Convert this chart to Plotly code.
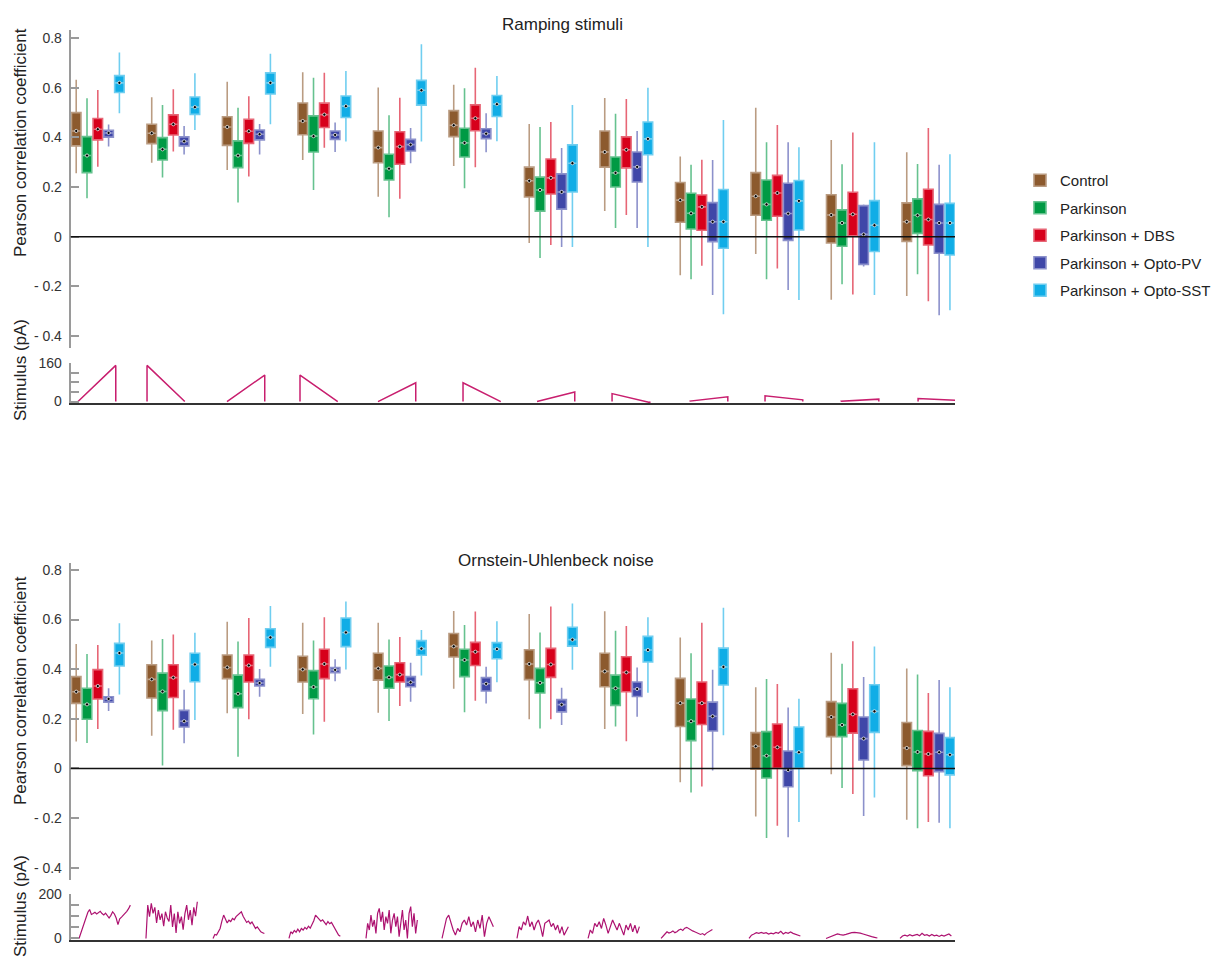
import plotly.graph_objects as go

W, H = 1227, 965

conditions = ["Control", "Parkinson", "Parkinson + DBS",
              "Parkinson + Opto-PV", "Parkinson + Opto-SST"]
colors = ["#8c5a2e", "#009a44", "#d7001b", "#3f47a8", "#10ade6"]

# Box statistics for the 12 stimuli:
# (lower whisker, Q1, median, Q3, upper whisker)
ramp_control = [(0.255, 0.366, 0.426, 0.500, 0.632), (0.298, 0.375, 0.417, 0.453, 0.562),
                (0.269, 0.368, 0.442, 0.483, 0.624), (0.309, 0.411, 0.466, 0.539, 0.663),
                (0.161, 0.298, 0.359, 0.426, 0.601), (0.285, 0.403, 0.449, 0.508, 0.612),
                (-0.026, 0.160, 0.225, 0.280, 0.454), (0.103, 0.280, 0.341, 0.426, 0.559),
                (-0.156, 0.058, 0.147, 0.218, 0.323), (-0.070, 0.086, 0.163, 0.258, 0.520),
                (-0.254, -0.026, 0.087, 0.169, 0.390), (-0.239, -0.019, 0.060, 0.136, 0.340)]
ramp_parkinson = [(0.155, 0.258, 0.327, 0.403, 0.558), (0.238, 0.309, 0.352, 0.399, 0.531),
                  (0.138, 0.278, 0.327, 0.386, 0.520), (0.188, 0.341, 0.405, 0.487, 0.640),
                  (0.078, 0.228, 0.274, 0.332, 0.489), (0.195, 0.321, 0.378, 0.437, 0.598),
                  (-0.086, 0.103, 0.188, 0.240, 0.442), (0.035, 0.200, 0.257, 0.321, 0.495),
                  (-0.172, 0.031, 0.094, 0.175, 0.290), (-0.172, 0.066, 0.130, 0.228, 0.380),
                  (-0.192, -0.039, 0.055, 0.108, 0.292), (-0.152, 0.013, 0.086, 0.152, 0.293)]
ramp_dbs = [(0.282, 0.390, 0.433, 0.476, 0.591), (0.343, 0.410, 0.453, 0.491, 0.594),
            (0.242, 0.376, 0.425, 0.473, 0.566), (0.358, 0.440, 0.492, 0.538, 0.661),
            (0.153, 0.292, 0.363, 0.423, 0.560), (0.280, 0.427, 0.477, 0.531, 0.681),
            (-0.034, 0.172, 0.237, 0.313, 0.462), (0.087, 0.277, 0.350, 0.402, 0.555),
            (-0.117, 0.026, 0.120, 0.168, 0.310), (-0.128, 0.082, 0.176, 0.247, 0.450),
            (-0.233, 0.003, 0.090, 0.179, 0.420), (-0.261, -0.034, 0.069, 0.191, 0.438)]
ramp_pv = [(0.363, 0.401, 0.418, 0.429, 0.452), (0.331, 0.366, 0.384, 0.402, 0.446),
           (0.331, 0.390, 0.413, 0.430, 0.454), (0.341, 0.392, 0.410, 0.426, 0.460),
           (0.296, 0.345, 0.371, 0.392, 0.438), (0.340, 0.395, 0.415, 0.435, 0.497),
           (-0.042, 0.111, 0.180, 0.253, 0.357), (0.035, 0.220, 0.281, 0.341, 0.426),
           (-0.235, -0.020, 0.060, 0.137, 0.309), (-0.215, -0.015, 0.093, 0.215, 0.380),
           (-0.120, -0.112, 0.009, 0.125, 0.130), (-0.317, -0.067, 0.055, 0.130, 0.290)]
ramp_sst = [(0.497, 0.581, 0.620, 0.649, 0.742), (0.430, 0.493, 0.522, 0.563, 0.659),
            (0.453, 0.575, 0.620, 0.660, 0.737), (0.383, 0.480, 0.526, 0.567, 0.668),
            (0.383, 0.530, 0.590, 0.630, 0.776), (0.384, 0.484, 0.534, 0.569, 0.648),
            (-0.042, 0.180, 0.296, 0.370, 0.531), (-0.042, 0.330, 0.394, 0.462, 0.600),
            (-0.313, -0.047, 0.060, 0.190, 0.470), (-0.255, 0.027, 0.144, 0.226, 0.360),
            (-0.235, -0.060, 0.046, 0.145, 0.380), (-0.297, -0.074, 0.055, 0.134, 0.332)]

ou_control = [(0.108, 0.262, 0.309, 0.370, 0.501), (0.132, 0.284, 0.359, 0.418, 0.516),
              (0.222, 0.362, 0.407, 0.457, 0.591), (0.219, 0.348, 0.399, 0.452, 0.587),
              (0.224, 0.356, 0.403, 0.464, 0.587), (0.321, 0.449, 0.492, 0.544, 0.634),
              (0.198, 0.358, 0.421, 0.478, 0.622), (0.159, 0.329, 0.391, 0.464, 0.633),
              (-0.056, 0.169, 0.263, 0.363, 0.528), (-0.194, -0.003, 0.089, 0.144, 0.327),
              (-0.024, 0.128, 0.207, 0.269, 0.466), (-0.207, 0.011, 0.082, 0.185, 0.403)]
ou_parkinson = [(0.102, 0.198, 0.258, 0.323, 0.461), (0.012, 0.233, 0.310, 0.384, 0.522),
                (0.047, 0.245, 0.301, 0.376, 0.512), (0.137, 0.281, 0.328, 0.394, 0.516),
                (0.191, 0.323, 0.367, 0.413, 0.520), (0.226, 0.370, 0.437, 0.480, 0.578),
                (0.161, 0.304, 0.345, 0.403, 0.548), (0.169, 0.254, 0.323, 0.376, 0.555),
                (-0.097, 0.112, 0.190, 0.280, 0.464), (-0.281, -0.039, 0.051, 0.148, 0.360),
                (-0.079, 0.128, 0.175, 0.262, 0.422), (-0.241, -0.009, 0.066, 0.153, 0.378)]
ou_dbs = [(0.159, 0.280, 0.332, 0.398, 0.497), (0.156, 0.286, 0.366, 0.418, 0.540),
          (0.198, 0.348, 0.415, 0.457, 0.606), (0.188, 0.362, 0.421, 0.480, 0.609),
          (0.251, 0.348, 0.378, 0.426, 0.530), (0.273, 0.415, 0.470, 0.508, 0.632),
          (0.198, 0.367, 0.419, 0.484, 0.653), (0.109, 0.309, 0.387, 0.450, 0.574),
          (-0.073, 0.177, 0.263, 0.348, 0.587), (-0.231, 0.000, 0.085, 0.179, 0.340),
          (-0.103, 0.142, 0.218, 0.321, 0.513), (-0.216, -0.030, 0.058, 0.149, 0.304)]
ou_pv = [(0.231, 0.267, 0.280, 0.289, 0.323), (0.101, 0.167, 0.190, 0.234, 0.317),
         (0.289, 0.332, 0.344, 0.359, 0.401), (0.351, 0.386, 0.397, 0.406, 0.440),
         (0.269, 0.329, 0.347, 0.370, 0.426), (0.262, 0.312, 0.341, 0.366, 0.410),
         (0.175, 0.228, 0.257, 0.277, 0.325), (0.208, 0.290, 0.320, 0.348, 0.407),
         (-0.009, 0.151, 0.210, 0.267, 0.398), (-0.278, -0.074, -0.007, 0.070, 0.245),
         (-0.192, 0.034, 0.120, 0.207, 0.368), (-0.219, -0.013, 0.065, 0.141, 0.356)]
ou_sst = [(0.298, 0.413, 0.465, 0.504, 0.585), (0.195, 0.349, 0.419, 0.464, 0.547),
          (0.410, 0.488, 0.528, 0.563, 0.655), (0.399, 0.491, 0.548, 0.606, 0.673),
          (0.374, 0.456, 0.483, 0.515, 0.558), (0.347, 0.442, 0.481, 0.507, 0.593),
          (0.398, 0.493, 0.519, 0.569, 0.665), (0.305, 0.429, 0.477, 0.532, 0.609),
          (0.134, 0.336, 0.409, 0.485, 0.648), (-0.216, 0.000, 0.065, 0.167, 0.281),
          (-0.117, 0.145, 0.230, 0.337, 0.491), (-0.241, -0.026, 0.055, 0.124, 0.327)]

# Ramp stimuli (pA): level at ramp onset and at ramp end
ramp_from = [0, 150, 0, 110, 0, 78, 0, 33, 2, 24, 1, 13]
ramp_to = [150, 0, 110, 0, 78, 0, 40, -4, 20, 7, 10, 5]

# Ornstein-Uhlenbeck stimulus samples (pA)
ou_stim_01 = [0, 25, 45, 70, 95, 118, 130, 108, 112, 118, 110, 116, 122, 112, 106,
              114, 100, 92, 104, 120, 110, 92, 62, 88, 96, 104, 112, 122, 134, 150]
ou_stim_02 = [0, 150, 98, 158, 113, 140, 70, 128, 84, 112, 55, 120, 92, 76, 150,
              52, 112, 25, 120, 68, 98, 40, 112, 150, 84, 128, 60, 140, 100, 165]
ou_stim_03 = [0, 18, 15, 28, 45, 78, 105, 88, 70, 82, 76, 90, 84, 98, 104,
              112, 120, 100, 86, 72, 78, 66, 74, 56, 45, 52, 38, 30, 26, 22]
ou_stim_04 = [0, 30, 22, 36, 28, 42, 30, 45, 38, 50, 42, 55, 46, 62, 80,
              105, 96, 88, 78, 84, 70, 62, 76, 66, 72, 58, 45, 30, 15, 10]
ou_stim_05 = [0, 68, 38, 105, 53, 83, 23, 113, 135, 75, 120, 38, 98, 68, 128, 23,
              83, 113, 53, 98, 8, 68, 128, 38, 83, 0, 113, 143, 53, 113, 23, 83]
ou_stim_06 = [0, 53, 90, 105, 68, 38, 15, 45, 30, 68, 83, 60, 98, 53, 75, 30,
              83, 45, 105, 8, 68, 98, 75, 53]
ou_stim_07 = [0, 53, 38, 75, 60, 101, 53, 75, 38, 68, 83, 53, 8, 68, 75, 83,
              53, 68, 38, 60, 23, 53, 15, 38, 53]
ou_stim_08 = [0, 38, 23, 68, 53, 75, 45, 90, 60, 23, 53, 83, 60, 38, 68, 45,
              15, 60, 38, 68, 30, 60, 23, 53]
ou_stim_09 = [0, 12, 20, 30, 24, 28, 34, 26, 30, 38, 42, 36, 46, 50, 44, 38,
              34, 30, 26, 22, 18, 22, 16, 24, 30, 36, 40]
ou_stim_10 = [0, 15, 20, 26, 23, 27, 23, 26, 20, 24, 21, 27, 23, 32, 20, 27,
              23, 29, 23, 20, 15, 11]
ou_stim_11 = [0, 5, 10, 15, 20, 17, 15, 18, 23, 26, 27, 26, 24, 20, 15, 11, 8, 5, 2]
ou_stim_12 = [0, 11, 15, 11, 17, 12, 15, 18, 12, 23, 14, 17, 11, 18, 12, 15,
              9, 15, 11, 14, 20, 11]
ou_stimuli = [ou_stim_01, ou_stim_02, ou_stim_03, ou_stim_04, ou_stim_05, ou_stim_06,
              ou_stim_07, ou_stim_08, ou_stim_09, ou_stim_10, ou_stim_11, ou_stim_12]

corr_ticks = [-0.4, -0.2, 0, 0.2, 0.4, 0.6, 0.8]
corr_labels = ["-\u00a00.4", "-\u00a00.2", "0", "0.2", "0.4", "0.6", "0.8"]


# ---- layout helpers (pixel -> paper) ----
def fx(px):
    return px / W


def fy(py):
    return 1 - py / H


def lighten(hex_color, amount):
    r, g, b = (int(hex_color[i:i + 2], 16) for i in (1, 3, 5))
    r, g, b = (round(c + (255 - c) * amount) for c in (r, g, b))
    return f"rgb({r},{g},{b})"


X_DOMAIN = [fx(70.7), fx(955)]
X_RANGE = [-0.359, 11.353]
BOX_STEP = 0.143
BOX_WIDTH = 0.126

# stimulus placement within each group slot (x units)
ramp_shift = [-0.262, -0.348, -0.289, -0.322, -0.289, -0.163,
              -0.183, -0.189, -0.156, -0.163, -0.156, -0.136]
RAMP_LEN = 0.5
ou_shift = [-0.249, -0.362, -0.474, -0.468, -0.448, -0.441,
            -0.448, -0.507, -0.540, -0.375, -0.355, -0.375]
OU_LEN = 0.68

fig = go.Figure()


def add_boxes(panel, xa, ya, show_legend):
    med_x, med_y = [], []
    for j, (name, col, stats) in enumerate(zip(conditions, colors, panel)):
        xs = [k + (j - 2) * BOX_STEP for k in range(len(stats))]
        fig.add_trace(go.Box(
            x=xs, orientation="v",
            lowerfence=[s[0] for s in stats], q1=[s[1] for s in stats],
            median=[s[2] for s in stats], q3=[s[3] for s in stats],
            upperfence=[s[4] for s in stats],
            width=BOX_WIDTH, whiskerwidth=0, boxpoints=False,
            fillcolor=col, line=dict(color=lighten(col, 0.4), width=1.6),
            name=name, legendgroup=name, showlegend=show_legend,
            xaxis=xa, yaxis=ya, hoverinfo="skip"))
        med_x += xs
        med_y += [s[2] for s in stats]
    fig.add_trace(go.Scatter(
        x=med_x, y=med_y, mode="markers", xaxis=xa, yaxis=ya, showlegend=False,
        marker=dict(color="black", size=3.2, line=dict(color="white", width=0.7)),
        hoverinfo="skip"))


add_boxes([ramp_control, ramp_parkinson, ramp_dbs, ramp_pv, ramp_sst], "x", "y", True)
add_boxes([ou_control, ou_parkinson, ou_dbs, ou_pv, ou_sst], "x3", "y3", False)

# ramp stimulus waveforms
rx, ry = [], []
for k, (a, b) in enumerate(zip(ramp_from, ramp_to)):
    t0 = k + ramp_shift[k]
    t1 = t0 + RAMP_LEN
    rx += [t0, t0, t1, t1, None]
    ry += [0, a, b, 0, None]
fig.add_trace(go.Scatter(x=rx, y=ry, mode="lines", xaxis="x2", yaxis="y2",
                         line=dict(color="#c81e6e", width=1.5), showlegend=False,
                         hoverinfo="skip"))

# OU stimulus waveforms
ox, oy = [], []
for k, trace in enumerate(ou_stimuli):
    t0 = k + ou_shift[k]
    n = len(trace)
    ox += [t0 + OU_LEN * i / (n - 1) for i in range(n)] + [None]
    oy += list(trace) + [None]
fig.add_trace(go.Scatter(x=ox, y=oy, mode="lines", xaxis="x4", yaxis="y4",
                         line=dict(color="#ad1270", width=1.2), showlegend=False,
                         hoverinfo="skip"))

AXIS_GREY = "#9a9a9a"
TICK_FONT = dict(size=14, color="#333")


def corr_axis(top_px, bottom_px, rng, anchor):
    return dict(domain=[fy(bottom_px), fy(top_px)], range=rng, anchor=anchor,
                tickvals=corr_ticks, ticktext=corr_labels, ticks="inside", ticklen=8,
                tickwidth=1.5, tickcolor=AXIS_GREY, showline=True, linecolor=AXIS_GREY,
                linewidth=2, zeroline=False, showgrid=False, tickfont=TICK_FONT,
                ticklabelstandoff=4, automargin=False)


def stim_axis(top_px, bottom_px, rng, vals, text, anchor):
    return dict(domain=[fy(bottom_px), fy(top_px)], range=rng, anchor=anchor,
                tickvals=vals, ticktext=text, ticks="inside", ticklen=8,
                tickwidth=1.5, tickcolor=AXIS_GREY, showline=True, linecolor=AXIS_GREY,
                linewidth=2, zeroline=False, showgrid=False, tickfont=TICK_FONT,
                ticklabelstandoff=4, automargin=False)


hidden_x = dict(domain=X_DOMAIN, range=X_RANGE, visible=False, automargin=False)
stim_x = dict(domain=X_DOMAIN, range=X_RANGE, showline=True, linecolor="#333",
              linewidth=2, showticklabels=False, ticks="", showgrid=False, zeroline=False,
              automargin=False)


def side_title(text, cy):
    return dict(text=text, x=fx(20), y=fy(cy), xref="paper", yref="paper",
                xanchor="center", yanchor="middle", showarrow=False, textangle=-90,
                font=dict(size=17, color="#222"))


def panel_title(text, cx, cy):
    return dict(text=text, x=fx(cx), y=fy(cy), xref="paper", yref="paper",
                xanchor="center", yanchor="middle", showarrow=False,
                font=dict(size=17, color="#222"))


fig.update_layout(
    width=W, height=H, margin=dict(l=0, r=0, t=0, b=0, autoexpand=False),
    paper_bgcolor="white", plot_bgcolor="white", boxmode="overlay",
    font=dict(family="Arial, Liberation Sans, sans-serif", size=14, color="#222"),
    xaxis=dict(hidden_x, anchor="y"),
    yaxis=corr_axis(30, 348, [-0.449, 0.833], "x"),
    xaxis2=dict(stim_x, anchor="y2"),
    yaxis2=stim_axis(363, 403, [-6, 160], [0, 40, 80, 120, 160],
                     ["0", "", "", "", "160"], "x2"),
    xaxis3=dict(hidden_x, anchor="y3"),
    yaxis3=corr_axis(563, 880, [-0.45, 0.828], "x3"),
    xaxis4=dict(stim_x, anchor="y4"),
    yaxis4=stim_axis(894, 940, [-7, 200], [0, 50, 100, 150, 200],
                     ["0", "", "", "", "200"], "x4"),
    legend=dict(x=fx(1020), y=fy(164), xanchor="left", yanchor="top",
                font=dict(size=15, color="#222"), tracegroupgap=5,
                bgcolor="rgba(0,0,0,0)", itemclick=False, itemdoubleclick=False),
    shapes=[
        dict(type="line", xref="x domain", yref="y", x0=0, x1=1, y0=0, y1=0,
             line=dict(color="#111", width=1.5), layer="above"),
        dict(type="line", xref="x3 domain", yref="y3", x0=0, x1=1, y0=0, y1=0,
             line=dict(color="#111", width=1.5), layer="above"),
    ],
    annotations=[
        panel_title("Ramping stimuli", 562, 25),
        panel_title("Ornstein-Uhlenbeck noise", 556, 560),
        side_title("Pearson correlation coefficient", 143),
        side_title("Pearson correlation coefficient", 691),
        side_title("Stimulus (pA)", 370),
        side_title("Stimulus (pA)", 906),
    ],
)

fig.write_html("out.html")
